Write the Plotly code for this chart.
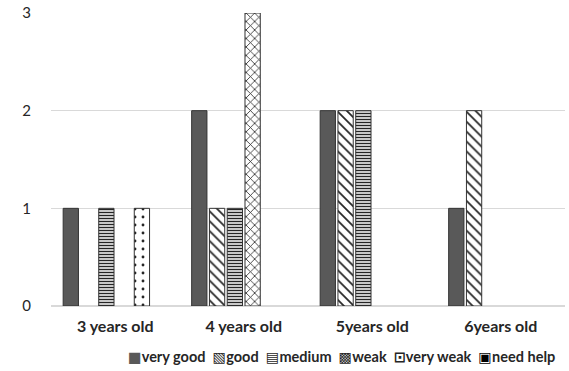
import plotly.graph_objects as go

categories = ["3 years old", "4 years old", "5years old", "6years old"]
very_good = [1, 2, 2, 1]
good = [0, 1, 2, 2]
medium = [1, 1, 2, 0]
weak = [0, 3, 0, 0]
very_weak = [1, 0, 0, 0]
need_help = [0, 0, 0, 0]
y_ticks = [0, 1, 2, 3]

series = [
    ("very good", very_good, dict(shape="")),
    ("good", good, dict(shape="\\", fgcolor="#262626", bgcolor="white", size=7, solidity=0.25)),
    ("medium", medium, dict(shape="-", fgcolor="#262626", bgcolor="white", size=3, solidity=0.5)),
    ("weak", weak, dict(shape="x", fgcolor="#262626", bgcolor="white", size=6, solidity=0.25)),
    ("very weak", very_weak, dict(shape=".", fgcolor="#262626", bgcolor="white", size=8, solidity=0.1)),
    ("need help", need_help, dict(shape=".", fgcolor="white", bgcolor="#000000", size=5, solidity=0.3)),
]

fig = go.Figure()
for name, vals, pat in series:
    widths = [1 if v else 0 for v in vals]
    if pat.get("shape") == "":
        marker = dict(color="#595959", line=dict(color="#333333", width=widths))
    else:
        marker = dict(color=pat["bgcolor"], line=dict(color="#333333", width=widths),
                      pattern=dict(shape=pat["shape"], fgcolor=pat["fgcolor"],
                                   bgcolor=pat["bgcolor"], size=pat["size"],
                                   solidity=pat["solidity"], fillmode="replace"))
    fig.add_trace(go.Bar(name=name, x=categories, y=vals, marker=marker, showlegend=False))

legend_text = ("<span style='color:#595959'>■</span>very good  ▧good  ▤medium  "
               "▩weak  ⊡very weak  <span style='color:#000'>▣</span>need help")

fig.update_layout(
    width=569, height=371,
    margin=dict(l=51, r=4, t=13, b=65, autoexpand=False),
    paper_bgcolor="white", plot_bgcolor="white",
    barmode="group", bargap=0.17, bargroupgap=0.14,
    font=dict(family="Lato, Open Sans, sans-serif", color="#404040", size=15),
    showlegend=False,
    annotations=[dict(text=legend_text, xref="paper", yref="paper", x=0.566, y=-0.174,
                      xanchor="center", yanchor="middle", showarrow=False,
                      font=dict(size=14.5, color="#262626", weight="bold",
                                family="Lato, DejaVu Sans, sans-serif"))],
)
fig.update_xaxes(showgrid=False, showline=True, linecolor="#d9d9d9", ticks="",
                 tickfont=dict(size=16, color="#262626", weight="bold"),
                 ticklabelstandoff=6)
fig.update_yaxes(range=[0, 3], tickvals=y_ticks, showgrid=True, gridcolor="#d9d9d9",
                 zeroline=True, zerolinecolor="#d9d9d9", showline=False,
                 tickfont=dict(size=15, color="#262626"), ticklabelstandoff=19)

fig.write_html("out.html", config={"displayModeBar": False},
               post_script="document.body.style.margin='0';document.body.style.overflow='hidden';")
